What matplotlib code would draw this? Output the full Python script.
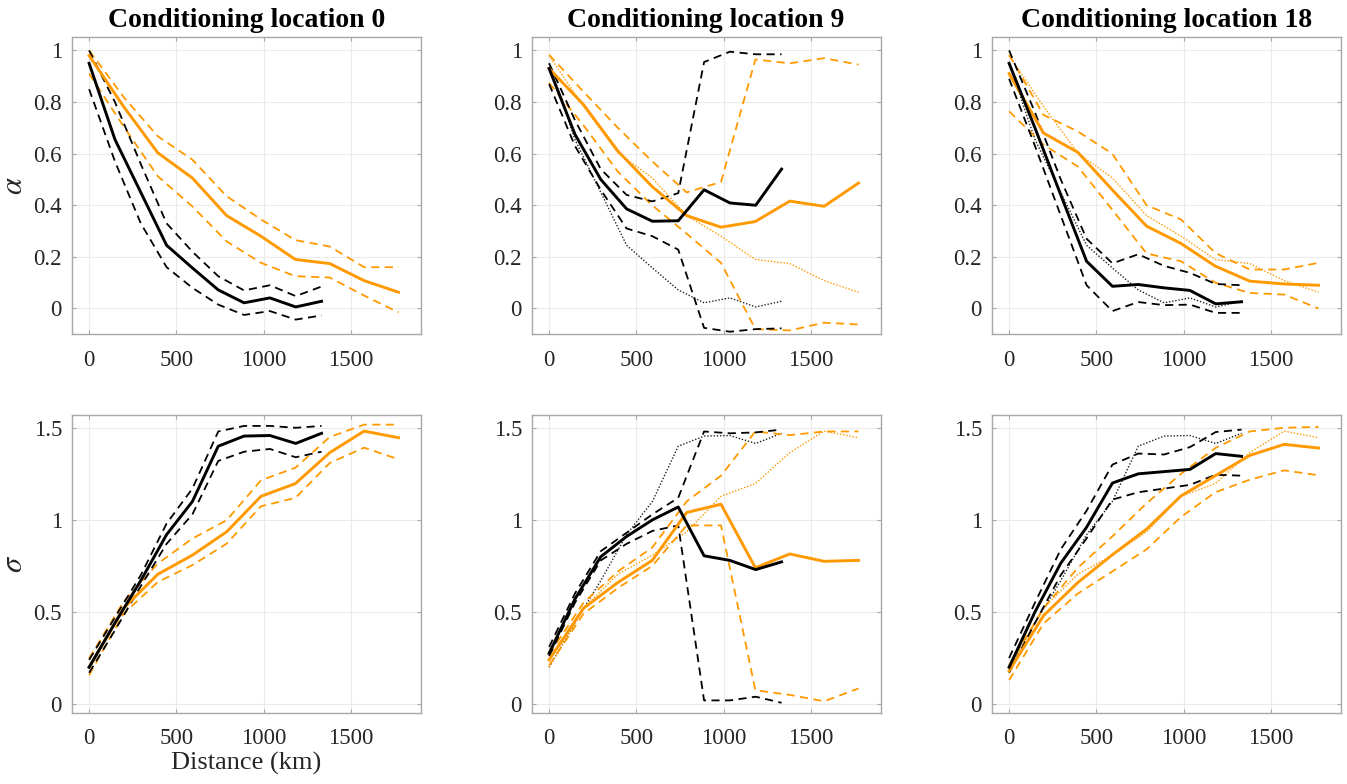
import matplotlib
matplotlib.use("Agg")
import matplotlib.pyplot as plt

plt.rcParams['font.family'] = ['Liberation Serif', 'DejaVu Serif']
plt.rcParams['mathtext.fontset'] = 'stix'

# distances (km) of the two data sets
dist_black = [0, 148, 296, 444, 592, 740, 888, 1036, 1184, 1332]
dist_orange = [0, 197, 394, 591, 788, 985, 1182, 1379, 1576, 1773]

# alpha, conditioning location 0
alpha_k0 = [0.95, 0.655, 0.45, 0.245, 0.157, 0.072, 0.022, 0.041, 0.006, 0.028]
alpha_k0_hi = [1.0, 0.80, 0.56, 0.33, 0.22, 0.125, 0.07, 0.09, 0.048, 0.085]
alpha_k0_lo = [0.85, 0.57, 0.33, 0.16, 0.08, 0.015, -0.025, -0.01, -0.043, -0.027]
alpha_o0 = [0.98, 0.783, 0.603, 0.506, 0.36, 0.28, 0.19, 0.174, 0.108, 0.063]
alpha_o0_hi = [1.0, 0.82, 0.667, 0.577, 0.435, 0.345, 0.265, 0.24, 0.16, 0.16]
alpha_o0_lo = [0.91, 0.706, 0.512, 0.396, 0.26, 0.177, 0.125, 0.12, 0.05, -0.015]

# alpha, conditioning location 9
alpha_k9 = [0.93, 0.675, 0.50, 0.386, 0.338, 0.34, 0.46, 0.409, 0.40, 0.54]
alpha_k9_hi = [0.95, 0.73, 0.54, 0.44, 0.415, 0.447, 0.955, 0.995, 0.985, 0.985]
alpha_k9_lo = [0.87, 0.63, 0.46, 0.31, 0.28, 0.228, -0.075, -0.09, -0.08, -0.077]
alpha_o9 = [0.93, 0.79, 0.61, 0.472, 0.36, 0.315, 0.337, 0.416, 0.396, 0.486]
alpha_o9_hi = [0.983, 0.84, 0.70, 0.57, 0.45, 0.49, 0.965, 0.95, 0.97, 0.945]
alpha_o9_lo = [0.874, 0.71, 0.53, 0.40, 0.29, 0.177, -0.08, -0.085, -0.055, -0.062]

# alpha, conditioning location 18
alpha_k18 = [0.95, 0.70, 0.44, 0.183, 0.086, 0.093, 0.08, 0.07, 0.018, 0.026]
alpha_k18_hi = [1.0, 0.76, 0.50, 0.27, 0.175, 0.21, 0.165, 0.138, 0.095, 0.09]
alpha_k18_lo = [0.89, 0.63, 0.36, 0.09, -0.01, 0.025, 0.013, 0.015, -0.017, -0.017]
alpha_o18 = [0.91, 0.68, 0.605, 0.46, 0.319, 0.252, 0.164, 0.106, 0.095, 0.09]
alpha_o18_hi = [0.983, 0.75, 0.686, 0.60, 0.40, 0.345, 0.215, 0.151, 0.151, 0.177]
alpha_o18_lo = [0.764, 0.635, 0.55, 0.383, 0.213, 0.183, 0.10, 0.06, 0.054, 0.0]

# sigma, conditioning location 0
sigma_k0 = [0.20, 0.44, 0.67, 0.92, 1.10, 1.40, 1.455, 1.458, 1.415, 1.47]
sigma_k0_hi = [0.24, 0.47, 0.70, 0.98, 1.17, 1.48, 1.51, 1.51, 1.50, 1.51]
sigma_k0_lo = [0.17, 0.40, 0.64, 0.87, 1.03, 1.32, 1.37, 1.385, 1.34, 1.37]
sigma_o0 = [0.20, 0.52, 0.705, 0.808, 0.935, 1.128, 1.197, 1.365, 1.482, 1.446]
sigma_o0_hi = [0.248, 0.555, 0.763, 0.898, 0.998, 1.215, 1.283, 1.45, 1.517, 1.517]
sigma_o0_lo = [0.157, 0.49, 0.663, 0.754, 0.871, 1.074, 1.119, 1.309, 1.392, 1.329]

# sigma, conditioning location 9
sigma_k9 = [0.275, 0.57, 0.80, 0.91, 1.0, 1.07, 0.805, 0.78, 0.73, 0.772]
sigma_k9_hi = [0.31, 0.60, 0.83, 0.93, 1.03, 1.12, 1.48, 1.47, 1.475, 1.49]
sigma_k9_lo = [0.26, 0.55, 0.78, 0.87, 0.94, 0.97, 0.02, 0.02, 0.04, 0.007]
sigma_o9 = [0.24, 0.52, 0.66, 0.78, 1.04, 1.085, 0.74, 0.815, 0.775, 0.78]
sigma_o9_hi = [0.27, 0.55, 0.72, 0.85, 1.10, 1.24, 1.48, 1.46, 1.48, 1.48]
sigma_o9_lo = [0.21, 0.49, 0.63, 0.75, 0.97, 0.97, 0.075, 0.05, 0.015, 0.085]

# sigma, conditioning location 18
sigma_k18 = [0.20, 0.50, 0.765, 0.96, 1.20, 1.25, 1.262, 1.274, 1.36, 1.345]
sigma_k18_hi = [0.25, 0.55, 0.84, 1.05, 1.30, 1.36, 1.355, 1.395, 1.477, 1.49]
sigma_k18_lo = [0.17, 0.44, 0.70, 0.90, 1.11, 1.15, 1.17, 1.19, 1.245, 1.24]
sigma_o18 = [0.18, 0.48, 0.66, 0.81, 0.95, 1.13, 1.24, 1.35, 1.41, 1.39]
sigma_o18_hi = [0.21, 0.52, 0.74, 0.91, 1.09, 1.25, 1.39, 1.48, 1.50, 1.505]
sigma_o18_lo = [0.13, 0.437, 0.60, 0.72, 0.84, 1.016, 1.15, 1.218, 1.269, 1.242]

titles = ['Conditioning location 0', 'Conditioning location 9',
          'Conditioning location 18']

ORANGE = '#FF9900'
DASH = (0, (4.5, 3))

panels = [
    [(alpha_k0, alpha_k0_hi, alpha_k0_lo, alpha_o0, alpha_o0_hi, alpha_o0_lo),
     (alpha_k9, alpha_k9_hi, alpha_k9_lo, alpha_o9, alpha_o9_hi, alpha_o9_lo),
     (alpha_k18, alpha_k18_hi, alpha_k18_lo, alpha_o18, alpha_o18_hi, alpha_o18_lo)],
    [(sigma_k0, sigma_k0_hi, sigma_k0_lo, sigma_o0, sigma_o0_hi, sigma_o0_lo),
     (sigma_k9, sigma_k9_hi, sigma_k9_lo, sigma_o9, sigma_o9_hi, sigma_o9_lo),
     (sigma_k18, sigma_k18_hi, sigma_k18_lo, sigma_o18, sigma_o18_hi, sigma_o18_lo)],
]

fig = plt.figure(figsize=(13.47, 7.84), dpi=100)
lefts = [0.0532, 0.3947, 0.7362]
bottoms = [0.5736, 0.0909]
w, h = 0.2591, 0.3792

for r in range(2):
    for c in range(3):
        ax = fig.add_axes([lefts[c], bottoms[r], w, h])
        k, k_hi, k_lo, o, o_hi, o_lo = panels[r][c]
        ref_k, ref_o = panels[r][0][0], panels[r][0][3]

        # location-0 means shown dotted for reference
        if c > 0:
            ax.plot(dist_black, ref_k, color='#222222', lw=1.0, ls=(0, (1, 1.3)))
            ax.plot(dist_orange, ref_o, color=ORANGE, lw=1.0, ls=(0, (1, 1.3)))

        ax.plot(dist_orange, o_hi, color=ORANGE, lw=1.3, ls=DASH)
        ax.plot(dist_orange, o_lo, color=ORANGE, lw=1.3, ls=DASH)
        ax.plot(dist_black, k_hi, color='black', lw=1.3, ls=DASH)
        ax.plot(dist_black, k_lo, color='black', lw=1.3, ls=DASH)
        ax.plot(dist_orange, o, color=ORANGE, lw=2.1)
        ax.plot(dist_black, k, color='black', lw=2.1)

        ax.set_xlim(-100, 1900)
        ax.set_xticks([0, 500, 1000, 1500])
        if r == 0:
            ax.set_ylim(-0.1, 1.052)
            ax.set_yticks([0, 0.2, 0.4, 0.6, 0.8, 1])
            ax.set_yticklabels(['0', '0.2', '0.4', '0.6', '0.8', '1'])
            ax.set_title(titles[c], fontsize=20, fontweight='bold', pad=7)
        else:
            ax.set_ylim(-0.047, 1.567)
            ax.set_yticks([0, 0.5, 1, 1.5])
            ax.set_yticklabels(['0', '0.5', '1', '1.5'])

        ax.grid(True, color='#ebebeb', lw=0.8)
        ax.set_axisbelow(True)
        for sp in ax.spines.values():
            sp.set_color('#a8a8a8')
            sp.set_linewidth(1.0)
        ax.tick_params(direction='in', length=3, color='#a8a8a8',
                       labelcolor='#262626', labelsize=16.5,
                       top=True, right=True)
        ax.tick_params(axis='x', pad=11)
        ax.tick_params(axis='y', pad=7)

        if c == 0:
            ax.set_ylabel(r'$\alpha$' if r == 0 else r'$\sigma$',
                          fontsize=22, color='#262626', labelpad=3)
        if r == 1 and c == 0:
            ax.set_xlabel('Distance (km)', fontsize=19, color='#262626',
                          labelpad=2)

fig.savefig('out.png', dpi=100)
